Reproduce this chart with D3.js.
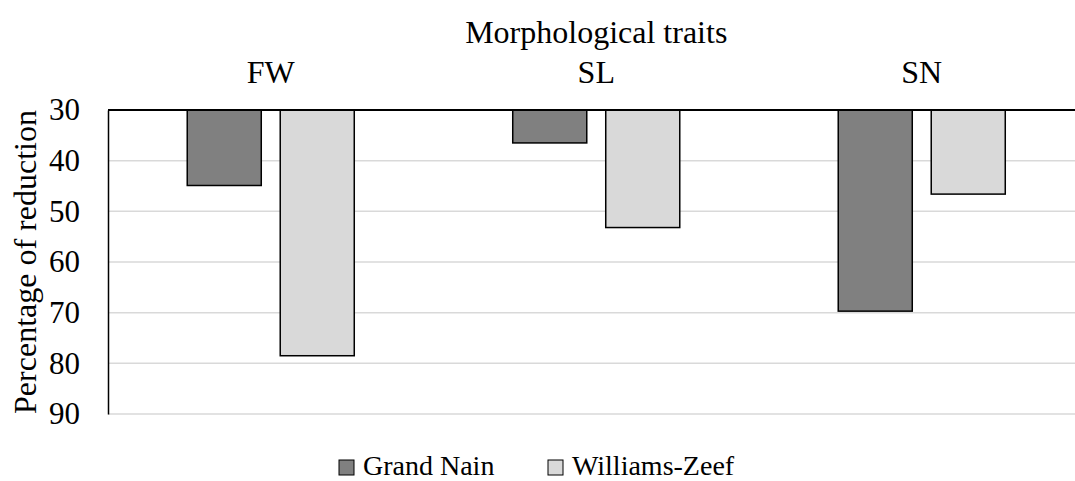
<!DOCTYPE html>
<html>
<script src="https://d3js.org/d3.v7.min.js"></script>
<style>
  body { margin: 0; background: #fff; }
  svg text { font-family: "Liberation Serif", "Times New Roman", serif; fill: #000; }
</style>
<body>
<div id="chart"></div>

<script>
    // chart values
    var traits = ["FW", "SL", "SN"];
    var cultivars = ["Grand Nain", "Williams-Zeef"];
    var grandNain = [44.9, 36.5, 69.7];
    var williamsZeef = [78.5, 53.2, 46.6];
    var yTicks = [30, 40, 50, 60, 70, 80, 90];
    var colors = ["#808080", "#d9d9d9"];

    var width = 1075, height = 481;
    var plotLeft = 108, plotRight = 1084.5, plotTop = 110, plotBottom = 414;
    var serif = "Liberation Serif, Times New Roman, serif";

    var svg = d3.select("#chart")
        .append("svg")
        .attr("width", width)
        .attr("height", height)
        .attr("font-family", serif);

    var x0 = d3.scaleBand().domain(traits).range([plotLeft, plotRight]).padding(0);
    var x1 = d3.scaleBand().domain(cultivars).range([0, x0.bandwidth()])
        .paddingInner(0.204).paddingOuter(0.852);
    // reversed axis: 30 at the top
    var y = d3.scaleLinear().domain([30, 90]).range([plotTop, plotBottom]);

    // gridlines
    svg.append("g")
        .selectAll("line")
        .data(yTicks.slice(1))
        .join("line")
        .attr("x1", plotLeft).attr("x2", plotRight)
        .attr("y1", d => y(d)).attr("y2", d => y(d))
        .attr("stroke", "#d9d9d9")
        .attr("stroke-width", 1.5);

    // y axis labels
    var yAxis = d3.axisLeft(y).tickValues(yTicks).tickSize(0).tickPadding(28);
    var ga = svg.append("g").attr("transform", "translate(" + plotLeft + ",0)").call(yAxis);
    ga.attr("font-family", serif).attr("font-size", 31);
    ga.select(".domain").attr("stroke", "#000").attr("stroke-width", 1.5);
    ga.selectAll("text").attr("fill", "#000");

    var rows = traits.map((t, i) => ({ trait: t, values: [grandNain[i], williamsZeef[i]] }));

    // bars
    svg.append("g")
        .selectAll("g")
        .data(rows)
        .join("g")
        .attr("transform", d => "translate(" + x0(d.trait) + ",0)")
        .selectAll("rect")
        .data(d => d.values.map((v, j) => ({ key: cultivars[j], value: v, j: j })))
        .join("rect")
        .attr("x", d => x1(d.key))
        .attr("width", x1.bandwidth())
        .attr("y", y(30))
        .attr("height", d => y(d.value) - y(30))
        .attr("fill", d => colors[d.j])
        .attr("stroke", "#000")
        .attr("stroke-width", 1.5);

    // top axis line (categories at 30)
    svg.append("line")
        .attr("x1", plotLeft).attr("x2", plotRight)
        .attr("y1", y(30)).attr("y2", y(30))
        .attr("stroke", "#000")
        .attr("stroke-width", 2);

    // category labels
    svg.append("g")
        .selectAll("text")
        .data(traits)
        .join("text")
        .attr("x", d => x0(d) + x0.bandwidth() / 2)
        .attr("y", 83)
        .attr("text-anchor", "middle")
        .attr("font-size", 32)
        .text(d => d);

    // axis titles
    svg.append("text")
        .attr("x", (plotLeft + plotRight) / 2)
        .attr("y", 43)
        .attr("text-anchor", "middle")
        .attr("font-size", 32)
        .text("Morphological traits");

    svg.append("text")
        .attr("transform", "translate(36," + (plotTop + plotBottom) / 2 + ") rotate(-90)")
        .attr("text-anchor", "middle")
        .attr("font-size", 32)
        .text("Percentage of reduction");

    // legend
    var legX = [339, 548];
    var leg = svg.append("g")
        .selectAll("g")
        .data(cultivars)
        .join("g")
        .attr("transform", (d, i) => "translate(" + legX[i] + ",460)");
    leg.append("rect")
        .attr("width", 15).attr("height", 15)
        .attr("fill", (d, i) => colors[i])
        .attr("stroke", "#000")
        .attr("stroke-width", 1);
    leg.append("text")
        .attr("x", 24)
        .attr("y", 15)
        .attr("font-size", 28)
        .text(d => d);
</script>

</body>
</html>
